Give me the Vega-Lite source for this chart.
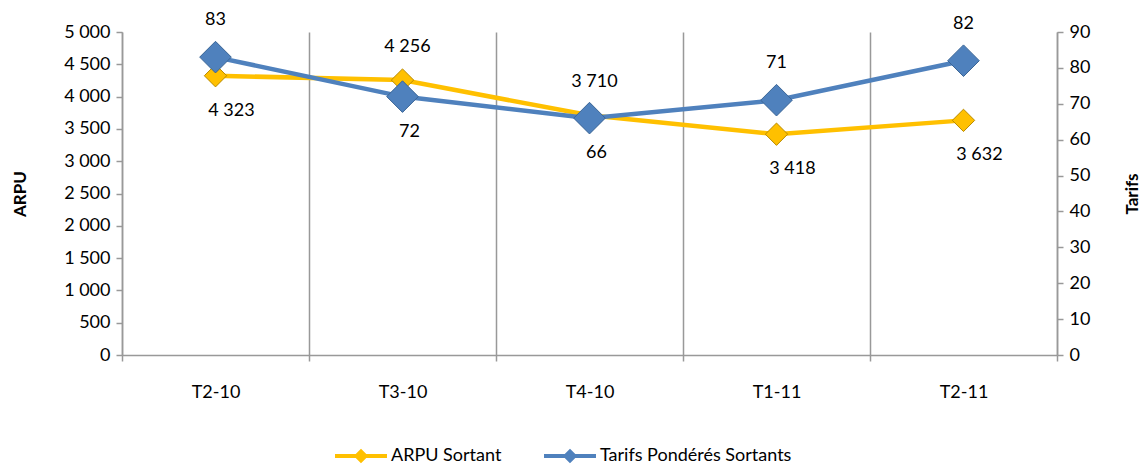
{
  "$schema": "https://vega.github.io/schema/vega-lite/v6.json",
  "width": 935,
  "height": 323,
  "autosize": {"type": "none"},
  "padding": {"left": 122, "top": 32, "right": 89, "bottom": 109},
  "background": "white",
  "data": {
    "values": [
      {"q": "T2-10", "arpu": 4323, "tarifs": 83},
      {"q": "T3-10", "arpu": 4256, "tarifs": 72},
      {"q": "T4-10", "arpu": 3710, "tarifs": 66},
      {"q": "T1-11", "arpu": 3418, "tarifs": 71},
      {"q": "T2-11", "arpu": 3632, "tarifs": 82}
    ]
  },
  "config": {
    "locale": {"number": {"decimal": ",", "thousands": " ", "grouping": [3], "currency": ["", " €"]}},
    "font": "Lato",
    "view": {"stroke": null},
    "axis": {
      "labelFont": "Lato", "labelFontSize": 18, "labelColor": "#000000",
      "titleFont": "Lato", "titleFontSize": 17, "titleColor": "#000000", "titleFontWeight": "bold",
      "domainColor": "#999999", "domainWidth": 1.5, "tickColor": "#999999", "tickWidth": 1.5, "tickSize": 6
    },
    "legend": {"labelFont": "Lato", "labelFontSize": 18, "labelColor": "#000000", "labelLimit": 500}
  },
  "encoding": {
    "x": {
      "field": "q", "type": "nominal", "sort": null, "bandPosition": 0.5,
      "scale": {"type": "band", "paddingInner": 0, "paddingOuter": 0},
      "axis": {"title": null, "labelAngle": 0, "tickBand": "extent", "grid": true, "gridColor": "#999999", "gridWidth": 1.5, "labelPadding": 22}
    }
  },
  "layer": [
    {
      "encoding": {
        "y": {
          "field": "arpu", "type": "quantitative",
          "scale": {"domain": [0, 5000], "nice": false, "zero": true},
          "axis": {"orient": "left", "title": "ARPU", "values": [0,500,1000,1500,2000,2500,3000,3500,4000,4500,5000], "format": ",d", "grid": false, "labelPadding": 6, "titlePadding": 34}
        }
      },
      "layer": [
        {"mark": {"type": "line", "color": "#FFC000", "strokeWidth": 4.5}},
        {"mark": {"type": "point", "shape": "diamond", "filled": true, "size": 500, "opacity": 1, "stroke": "#B88A00", "strokeWidth": 1},
         "encoding": {"color": {"datum": "ARPU Sortant", "type": "nominal",
           "scale": {"domain": ["ARPU Sortant", "Tarifs Pondérés Sortants"], "range": ["#FFC000", "#4F81BD"]},
           "legend": {"title": null, "orient": "none", "legendX": 213, "legendY": 398, "direction": "horizontal",
             "symbolType": "M-1,-0.08L1,-0.08L1,0.08L-1,0.08Z M-0.28,0L0,-0.28L0.28,0L0,0.28Z",
             "symbolSize": 2700, "symbolStrokeWidth": 0, "labelOffset": 4, "columnPadding": 42,
             "labelFontSize": 18, "labelLimit": 500}}}},
        {"transform": [{"filter": {"field": "q", "oneOf": ["T3-10", "T4-10"]}}],
         "mark": {"type": "text", "dy": -33, "dx": 5, "fontSize": 18, "font": "Lato", "color": "#000000"},
         "encoding": {"text": {"field": "arpu", "type": "quantitative", "format": ",d"}}},
        {"transform": [{"filter": {"field": "q", "oneOf": ["T2-10", "T1-11", "T2-11"]}}],
         "mark": {"type": "text", "dy": 35, "dx": 16, "fontSize": 18, "font": "Lato", "color": "#000000"},
         "encoding": {"text": {"field": "arpu", "type": "quantitative", "format": ",d"}}}
      ]
    },
    {
      "encoding": {
        "y": {
          "field": "tarifs", "type": "quantitative",
          "scale": {"domain": [0, 90], "nice": false, "zero": true},
          "axis": {"orient": "right", "title": "Tarifs", "values": [0,10,20,30,40,50,60,70,80,90], "grid": false, "labelPadding": 6, "titlePadding": 52, "titleAngle": 270}
        }
      },
      "layer": [
        {"mark": {"type": "line", "color": "#4F81BD", "strokeWidth": 4.5}},
        {"mark": {"type": "point", "shape": "diamond", "filled": true, "size": 1000, "opacity": 1, "stroke": "#3A6596", "strokeWidth": 1},
         "encoding": {"color": {"datum": "Tarifs Pondérés Sortants", "type": "nominal"}}},
        {"transform": [{"filter": {"field": "q", "oneOf": ["T2-10", "T1-11", "T2-11"]}}],
         "mark": {"type": "text", "dy": -37, "fontSize": 18, "font": "Lato", "color": "#000000"},
         "encoding": {"text": {"field": "tarifs", "type": "quantitative"}}},
        {"transform": [{"filter": {"field": "q", "oneOf": ["T3-10", "T4-10"]}}],
         "mark": {"type": "text", "dy": 35, "dx": 7, "fontSize": 18, "font": "Lato", "color": "#000000"},
         "encoding": {"text": {"field": "tarifs", "type": "quantitative"}}}
      ]
    }
  ],
  "resolve": {"scale": {"y": "independent"}}
}
